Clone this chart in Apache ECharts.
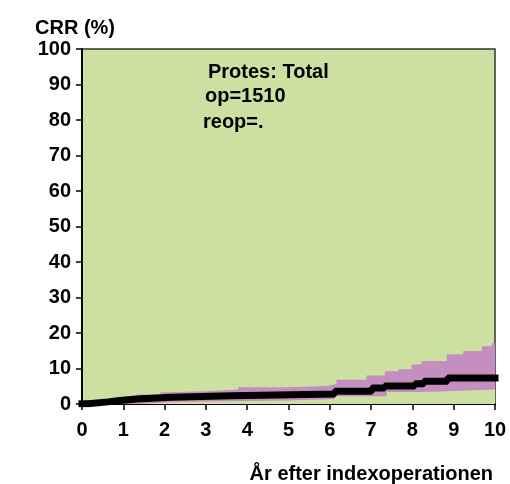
<!DOCTYPE html>
<html><head><meta charset="utf-8">
<script src="https://cdn.jsdelivr.net/npm/echarts@6/dist/echarts.min.js"></script>
<style>html,body{margin:0;padding:0;background:#fff}#c{width:510px;height:484px}</style>
</head><body><div id="c"></div>
<script>
// Kaplan-Meier style cumulative revision rate (estimate), step changes
const estX = [0, 0.15, 0.63, 0.92, 1.32, 2.17, 3.62, 6.12, 7.02, 7.33, 8.06, 8.28, 8.85, 10];
const estY = [0.1, 0.6, 1.0, 1.4, 1.9, 2.3, 2.8, 3.6, 4.5, 5.1, 5.7, 6.4, 7.3, 7.3];
// Upper confidence limit
const upX = [0, 0.15, 0.63, 0.92, 1.32, 1.9, 2.17, 3.01, 3.78, 4.99, 5.92, 6.16, 6.89, 7.33, 7.66, 7.98, 8.22, 8.83, 9.23, 9.68, 9.92, 10];
const upY = [0.4, 1.1, 1.6, 2.1, 2.7, 3.3, 3.6, 4.1, 4.7, 5.1, 5.65, 6.8, 8.0, 9.2, 9.8, 11.1, 12.1, 14.0, 14.9, 16.3, 17.2, 17.2];
// Lower confidence limit
const loX = [0, 1.32, 2.17, 3.62, 5.0, 6.12, 7.38, 8.26, 8.87, 10];
const loY = [0, 0.5, 0.8, 1.0, 1.4, 2.2, 3.4, 3.6, 4.07, 4.07];

const xTicks = [0,1,2,3,4,5,6,7,8,9,10];
const yTicks = [0,10,20,30,40,50,60,70,80,90,100];

const titleY = 'CRR (%)';
const titleX = 'År efter indexoperationen';
const notes = ['Protes: Total', 'op=1510', 'reop=.'];

const GREEN = '#cce0a2';
const PURPLE = '#c48fc0';
const FONT = 'Liberation Sans, Arial, sans-serif';

const zip = (xs, ys) => xs.map((x, i) => [x, ys[i]]);

const chart = echarts.init(document.getElementById('c'), null, {renderer: 'canvas'});
chart.setOption({
  animation: false,
  backgroundColor: '#ffffff',
  grid: {left: 82, right: 15, top: 49, bottom: 80, show: true, backgroundColor: GREEN, borderColor: '#333', borderWidth: 1.5},
  xAxis: {
    type: 'value', min: xTicks[0], max: xTicks[xTicks.length-1], interval: 1,
    axisLine: {show: true, onZero: false, lineStyle: {color: '#000', width: 2}},
    axisTick: {show: true, length: 6, lineStyle: {color: '#000', width: 1.5}},
    axisLabel: {margin: 16, color: '#000', fontFamily: FONT, fontWeight: 'bold', fontSize: 20},
    splitLine: {show: false}
  },
  yAxis: {
    type: 'value', min: yTicks[0], max: yTicks[yTicks.length-1], interval: 10,
    axisLine: {show: true, onZero: false, lineStyle: {color: '#000', width: 2}},
    axisTick: {show: true, length: 6, lineStyle: {color: '#000', width: 1.5}},
    axisLabel: {margin: 11, color: '#000', fontFamily: FONT, fontWeight: 'bold', fontSize: 20},
    splitLine: {show: false}
  },
  series: [
    {type: 'line', step: 'end', data: zip(upX, upY), symbol: 'none', z: 2,
     lineStyle: {width: 0}, areaStyle: {color: PURPLE, opacity: 1}},
    {type: 'line', step: 'end', data: zip(loX, loY), symbol: 'none', z: 3,
     lineStyle: {width: 0}, areaStyle: {color: GREEN, opacity: 1}},
    {type: 'line', step: 'end', data: zip(estX, estY), symbol: 'none', z: 4,
     lineStyle: {width: 7, color: '#000', cap: 'square'}}
  ],
  graphic: [
    {type: 'text', left: 35, top: 18, style: {text: titleY, font: 'bold 20px ' + FONT, fill: '#000'}},
    {type: 'text', right: 17, top: 464, style: {text: titleX, font: 'bold 20px ' + FONT, fill: '#000'}},
    {type: 'text', left: 208, top: 62, z: 10, style: {text: notes[0], font: 'bold 20px ' + FONT, fill: '#000'}},
    {type: 'text', left: 205, top: 86, z: 10, style: {text: notes[1], font: 'bold 20px ' + FONT, fill: '#000'}},
    {type: 'text', left: 203, top: 112, z: 10, style: {text: notes[2], font: 'bold 20px ' + FONT, fill: '#000'}}
  ]
});
</script></body></html>
